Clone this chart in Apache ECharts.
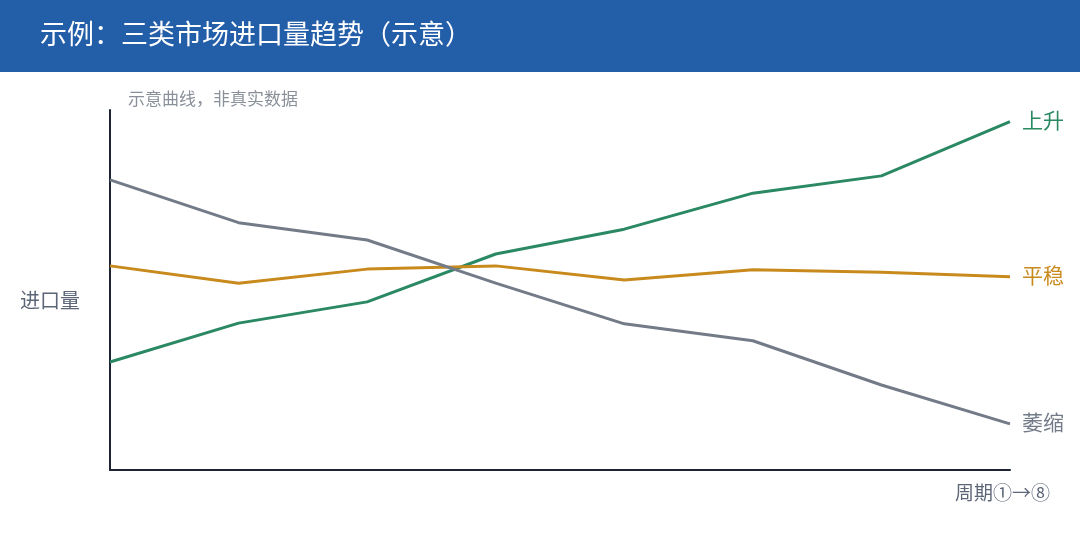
<!DOCTYPE html>
<html><head><meta charset="utf-8">
<script src="https://cdn.jsdelivr.net/npm/echarts@6/dist/echarts.min.js"></script>
<style>html,body{margin:0;padding:0;background:#fff}#c{width:1080px;height:560px}</style>
</head><body><div id="c"></div>
<script>
const categories = ['1','2','3','4','5','6','7','8'];
const seriesNames = ['上升','平稳','萎缩'];
const risingValues = [30, 40.8, 46.7, 60, 66.9, 76.9, 81.7, 96.8];
const stableValues = [56.7, 51.9, 55.8, 56.7, 52.8, 55.6, 54.9, 53.7];
const shrinkingValues = [80.6, 68.7, 63.9, 51.9, 40.6, 35.9, 23.6, 12.8];
const titleText = '示例：三类市场进口量趋势（示意）';
const subtitleText = '示意曲线，非真实数据';
const yAxisName = '进口量';
const xAxisName = '周期①→⑧';

const colors = ['#2a8963', '#c98a1d', '#747b88'];
const FONT = '"Noto Sans CJK SC", "Noto Sans", sans-serif';
const chart = echarts.init(document.getElementById('c'));
const dataSets = [risingValues, stableValues, shrinkingValues];
chart.setOption({
  animation: false,
  textStyle: { fontFamily: FONT },
  grid: { left: 110, right: 70, top: 110, bottom: 90 },
  graphic: [
    { type: 'rect', left: 0, top: 0, shape: { width: 1080, height: 72 }, style: { fill: '#235ea9' }, z: 0 },
    { type: 'text', left: 40, top: 20, style: { text: titleText, fill: '#ffffff', font: '27px ' + FONT }, z: 2 },
    { type: 'text', left: 128, top: 90, style: { text: subtitleText, fill: '#8a9099', font: '17px ' + FONT } },
    { type: 'text', left: 20, top: 290, style: { text: yAxisName, fill: '#5d6677', font: '20px ' + FONT } },
    { type: 'text', right: 30, top: 483, style: { text: xAxisName, fill: '#5d6677', font: '19px ' + FONT } }
  ],
  xAxis: {
    type: 'category', data: categories, boundaryGap: false,
    axisLine: { lineStyle: { color: '#1d2434', width: 2 } },
    axisTick: { show: false }, axisLabel: { show: false }, splitLine: { show: false }
  },
  yAxis: {
    type: 'value', min: 0, max: 100,
    axisLine: { show: true, lineStyle: { color: '#1d2434', width: 2 } },
    axisTick: { show: false }, axisLabel: { show: false }, splitLine: { show: false }
  },
  series: seriesNames.map((name, i) => ({
    name, type: 'line', data: dataSets[i], showSymbol: false, symbol: 'none',
    lineStyle: { color: colors[i], width: 3 },
    itemStyle: { color: colors[i] },
    endLabel: { show: true, formatter: name, color: colors[i], fontSize: 21, distance: 12, offset: [0, -2], fontFamily: FONT }
  }))
});
</script></body></html>
